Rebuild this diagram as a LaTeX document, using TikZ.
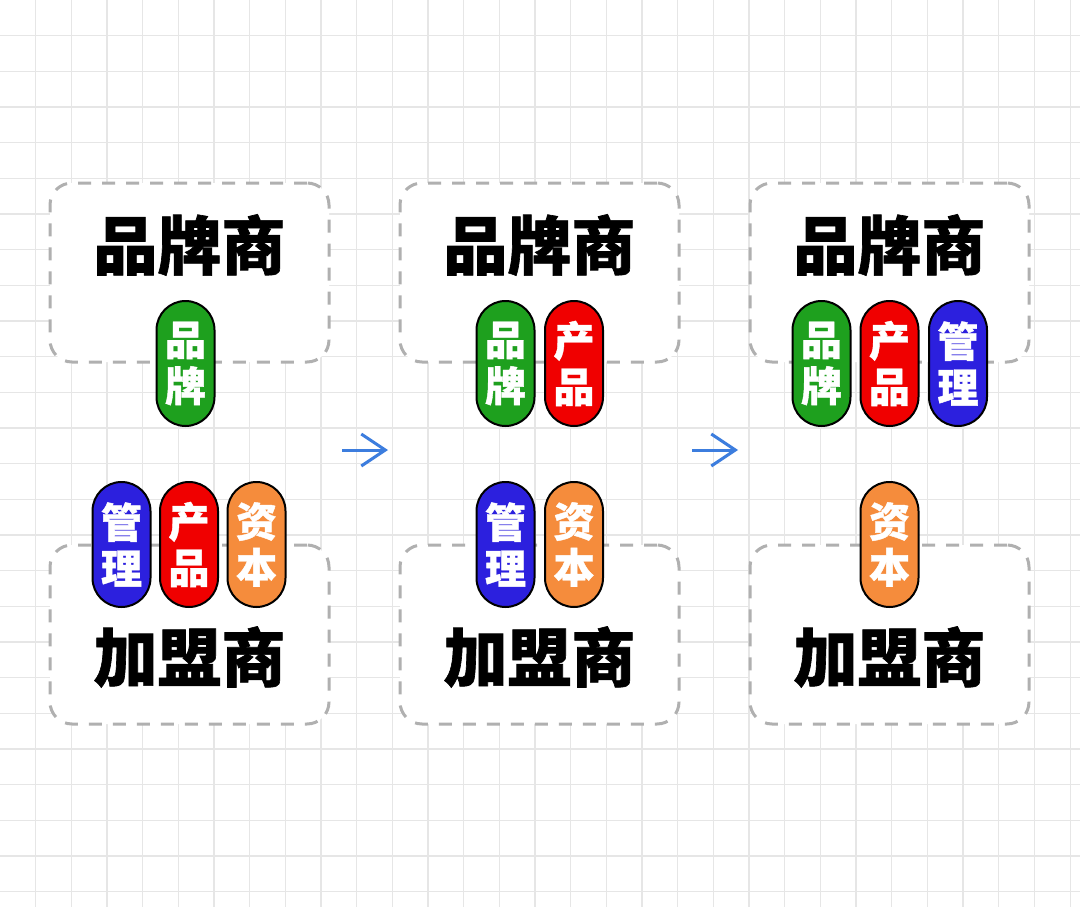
\documentclass[tikz,border=0pt]{standalone}
\usepackage{fontspec}
\usetikzlibrary{arrows.meta}
\newfontfamily\cjk{Noto Sans CJK SC}[BoldFeatures={FakeBold=1}]
\definecolor{gridgray}{RGB}{230,230,230}
\definecolor{boxgray}{RGB}{176,176,176}
\definecolor{pillgreen}{RGB}{30,160,30}
\definecolor{pillred}{RGB}{240,0,0}
\definecolor{pillblue}{RGB}{44,32,222}
\definecolor{pillorange}{RGB}{245,140,60}
\definecolor{arrowblue}{RGB}{60,125,222}

\begin{document}
\begin{tikzpicture}[%
  x=1pt, y=-1pt,
  >={Straight Barb[length=24pt,width=32pt]},
  party/.style={draw=boxgray, fill=white, line width=3pt,
    dash pattern=on 13pt off 11pt, rounded corners=22pt,
    minimum width=279pt, minimum height=179pt, inner sep=0pt},
  partyname/.style={inner sep=0pt, font=\cjk\bfseries\fontsize{64}{64}\selectfont},
  pill/.style={draw=black, line width=2pt, rounded corners=29pt,
    minimum width=58pt, minimum height=125pt, inner sep=0pt,
    text=white, align=center, font=\cjk\bfseries\fontsize{41}{46}\selectfont},
  flow/.style={->, arrowblue, line width=3pt},
]

  \useasboundingbox[fill=white] (0,0) rectangle (1080,907);

  % grid
  \foreach \i in {1,...,30}
    \draw[gridgray, line width=1.2pt] (35.67*\i,0) -- (35.67*\i,907);
  \foreach \j in {1,...,25}
    \draw[gridgray, line width=1.2pt] (0,35.67*\j) -- (1080,35.67*\j);

  % brand side (top) and franchisee side (bottom)
  \node[party] (brandbox1) at (189.5,272.5) {};
  \node[party] (brandbox2) at (539.5,272.5) {};
  \node[party] (brandbox3) at (889.5,272.5) {};
  \node[party] (joinbox1) at (189.5,634.5) {};
  \node[party] (joinbox2) at (539.5,634.5) {};
  \node[party] (joinbox3) at (889.5,634.5) {};

  \node[partyname] (brand1) at (189.5,245) {品牌商};
  \node[partyname] (brand2) at (539.5,245) {品牌商};
  \node[partyname] (brand3) at (889.5,245) {品牌商};
  \node[partyname] (join1) at (189.5,657) {加盟商};
  \node[partyname] (join2) at (539.5,657) {加盟商};
  \node[partyname] (join3) at (889.5,657) {加盟商};

  % stage 1
  \node[pill, fill=pillgreen] (pb1) at (185.5,363.5) {品\\牌};
  \node[pill, fill=pillblue] (mg1) at (121.5,544.5) {管\\理};
  \node[pill, fill=pillred] (pd1) at (189,544.5) {产\\品};
  \node[pill, fill=pillorange] (cp1) at (256.5,544.5) {资\\本};

  % stage 2
  \node[pill, fill=pillgreen] (pb2) at (505.5,363.5) {品\\牌};
  \node[pill, fill=pillred] (pd2) at (574,363.5) {产\\品};
  \node[pill, fill=pillblue] (mg2) at (505.5,544.5) {管\\理};
  \node[pill, fill=pillorange] (cp2) at (574,544.5) {资\\本};

  % stage 3
  \node[pill, fill=pillgreen] (pb3) at (821.5,363.5) {品\\牌};
  \node[pill, fill=pillred] (pd3) at (889.5,363.5) {产\\品};
  \node[pill, fill=pillblue] (mg3) at (958,363.5) {管\\理};
  \node[pill, fill=pillorange] (cp3) at (889.5,544.5) {资\\本};

  \coordinate (step1s) at (342,450);
  \coordinate (step1e) at (388,450);
  \coordinate (step2s) at (692,450);
  \coordinate (step2e) at (738,450);
  \draw[flow] (step1s) -- (step1e);
  \draw[flow] (step2s) -- (step2e);

\end{tikzpicture}
\end{document}
